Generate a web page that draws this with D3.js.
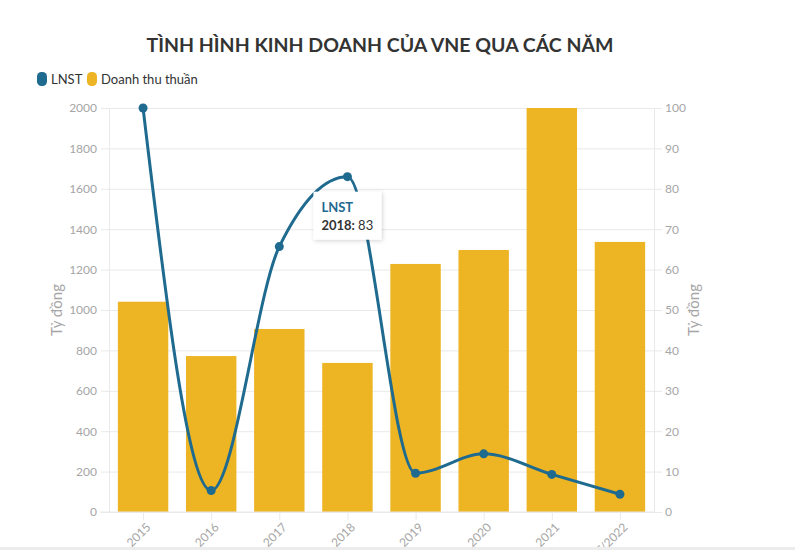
<!DOCTYPE html>
<html>
<head>
<meta charset="utf-8">
<script src="https://cdn.jsdelivr.net/npm/d3@7"></script>
<style>
  html, body { margin: 0; padding: 0; background: #fff; overflow: hidden; }
  svg { display: block; font-family: Lato, "Noto Sans", sans-serif; }
</style>
</head>
<body>
<svg id="chart" width="795" height="550"></svg>
<script>
const years = ["2015", "2016", "2017", "2018", "2019", "2020", "2021", "9T/2022"];
const revenue = [1041, 772, 906, 738, 1228, 1297, 2000, 1337];   // Doanh thu thuần
const profit = [100, 5.3, 65.7, 83, 9.6, 14.4, 9.3, 4.4];        // LNST
const leftTicks = [0, 200, 400, 600, 800, 1000, 1200, 1400, 1600, 1800, 2000];
const rightTicks = [0, 10, 20, 30, 40, 50, 60, 70, 80, 90, 100];

const W = 795, H = 550;
const margin = { top: 108, right: 141, bottom: 38, left: 109 };
const innerW = W - margin.left - margin.right;
const innerH = H - margin.top - margin.bottom;

const blue = "#1f6a8f";
const yellow = "#edb424";
const grey = "#a6a6a6";

const svg = d3.select("#chart");

// title
svg.append("text")
    .attr("x", 380).attr("y", 52)
    .attr("text-anchor", "middle")
    .attr("font-size", 19.5).attr("font-weight", "bold")
    .attr("fill", "#333")
    .text("TÌNH HÌNH KINH DOANH CỦA VNE QUA CÁC NĂM");

// legend
const legend = svg.append("g");
const legendItems = [
    { name: "LNST", color: blue, x: 37 },
    { name: "Doanh thu thuần", color: yellow, x: 87 }
];
legendItems.forEach(d => {
    legend.append("rect")
        .attr("x", d.x).attr("y", 72)
        .attr("width", 10).attr("height", 14)
        .attr("rx", 4.5)
        .attr("fill", d.color);
    legend.append("text")
        .attr("x", d.x + 14).attr("y", 84)
        .attr("font-size", 13).attr("fill", "#333")
        .text(d.name);
});

const g = svg.append("g").attr("transform", `translate(${margin.left},${margin.top})`);

const x = d3.scaleBand().domain(years).range([0, innerW]).paddingInner(0.26).paddingOuter(0.13);
const xc = d3.scalePoint().domain(years).range([0, innerW]).padding(0.5);
const yL = d3.scaleLinear().domain([0, 2000]).range([innerH, 0]);
const yR = d3.scaleLinear().domain([0, 100]).range([innerH, 0]);

// gridlines
g.append("g")
    .call(d3.axisLeft(yL).tickValues(leftTicks).tickSize(-innerW).tickFormat(""))
    .call(a => a.select(".domain").remove())
    .call(a => a.selectAll("line").attr("stroke", "#e9e9e9"));

// left axis
g.append("g")
    .call(d3.axisLeft(yL).tickValues(leftTicks).tickFormat(d3.format("d")).tickSize(8).tickPadding(4))
    .call(a => a.select(".domain").attr("stroke", "#e9e9e9"))
    .call(a => a.selectAll("line").attr("stroke", "#e9e9e9"))
    .call(a => a.selectAll("text").attr("fill", grey).attr("font-size", 12).attr("font-family", "Lato"));

// right axis
g.append("g")
    .attr("transform", `translate(${innerW},0)`)
    .call(d3.axisRight(yR).tickValues(rightTicks).tickFormat(d3.format("d")).tickSize(8).tickPadding(3))
    .call(a => a.select(".domain").attr("stroke", "#e9e9e9"))
    .call(a => a.selectAll("line").attr("stroke", "#e9e9e9"))
    .call(a => a.selectAll("text").attr("fill", grey).attr("font-size", 12).attr("font-family", "Lato"));

// axis titles
svg.append("text")
    .attr("transform", `translate(62,${margin.top + innerH / 2}) rotate(-90)`)
    .attr("text-anchor", "middle")
    .attr("font-size", 15).attr("fill", grey)
    .text("Tỷ đồng");
svg.append("text")
    .attr("transform", `translate(699,${margin.top + innerH / 2}) rotate(-90)`)
    .attr("text-anchor", "middle")
    .attr("font-size", 15).attr("fill", grey)
    .text("Tỷ đồng");

// bars
g.append("g").selectAll("rect")
    .data(years)
    .join("rect")
    .attr("x", d => x(d))
    .attr("width", x.bandwidth())
    .attr("y", (d, i) => yL(revenue[i]))
    .attr("height", (d, i) => innerH - yL(revenue[i]))
    .attr("fill", yellow);

// x axis
g.append("g")
    .attr("transform", `translate(0,${innerH})`)
    .call(d3.axisBottom(xc).tickSize(8).tickPadding(4).tickSizeOuter(0))
    .call(a => a.select(".domain").attr("stroke", "#e9e9e9").attr("d", `M-9,0H${innerW}`))
    .call(a => a.selectAll("line").attr("stroke", "#e9e9e9"))
    .call(a => a.selectAll("text")
        .attr("fill", grey).attr("font-size", 12).attr("font-family", "Lato")
        .attr("text-anchor", "end")
        .attr("y", 0).attr("dy", "0.35em")
        .attr("transform", "translate(5,13) rotate(-45)"));

// profit line
const line = d3.line()
    .x((d, i) => xc(years[i]))
    .y(d => yR(d))
    .curve(d3.curveMonotoneX);

g.append("path")
    .datum(profit)
    .attr("d", line)
    .attr("fill", "none")
    .attr("stroke", blue)
    .attr("stroke-width", 3);

g.append("g").selectAll("circle")
    .data(profit)
    .join("circle")
    .attr("cx", (d, i) => xc(years[i]))
    .attr("cy", d => yR(d))
    .attr("r", 4.5)
    .attr("fill", blue);

// tooltip for 2018
const ti = 3;
const tx = xc(years[ti]) + margin.left - 34, ty = yR(profit[ti]) + margin.top + 15;
const defs = svg.append("defs");
const f = defs.append("filter").attr("id", "shadow").attr("x", "-20%").attr("y", "-20%").attr("width", "150%").attr("height", "150%");
f.append("feDropShadow").attr("dx", 1).attr("dy", 1).attr("stdDeviation", 2).attr("flood-color", "#000").attr("flood-opacity", 0.18);
const tip = svg.append("g").attr("transform", `translate(${tx},${ty})`);
tip.append("rect")
    .attr("width", 68).attr("height", 48)
    .attr("fill", "#fff")
    .attr("filter", "url(#shadow)");
tip.append("text")
    .attr("x", 8).attr("y", 20)
    .attr("font-size", 13).attr("font-weight", "bold").attr("fill", blue)
    .text("LNST");
const t2 = tip.append("text").attr("x", 8).attr("y", 38).attr("font-size", 13).attr("fill", "#333");
t2.append("tspan").attr("font-weight", "bold").text(years[ti] + ": ");
t2.append("tspan").text(profit[ti]);

// page edge strip
svg.append("rect").attr("x", 0).attr("y", 547).attr("width", W).attr("height", 3).attr("fill", "#ececec");
</script>
</body>
</html>
